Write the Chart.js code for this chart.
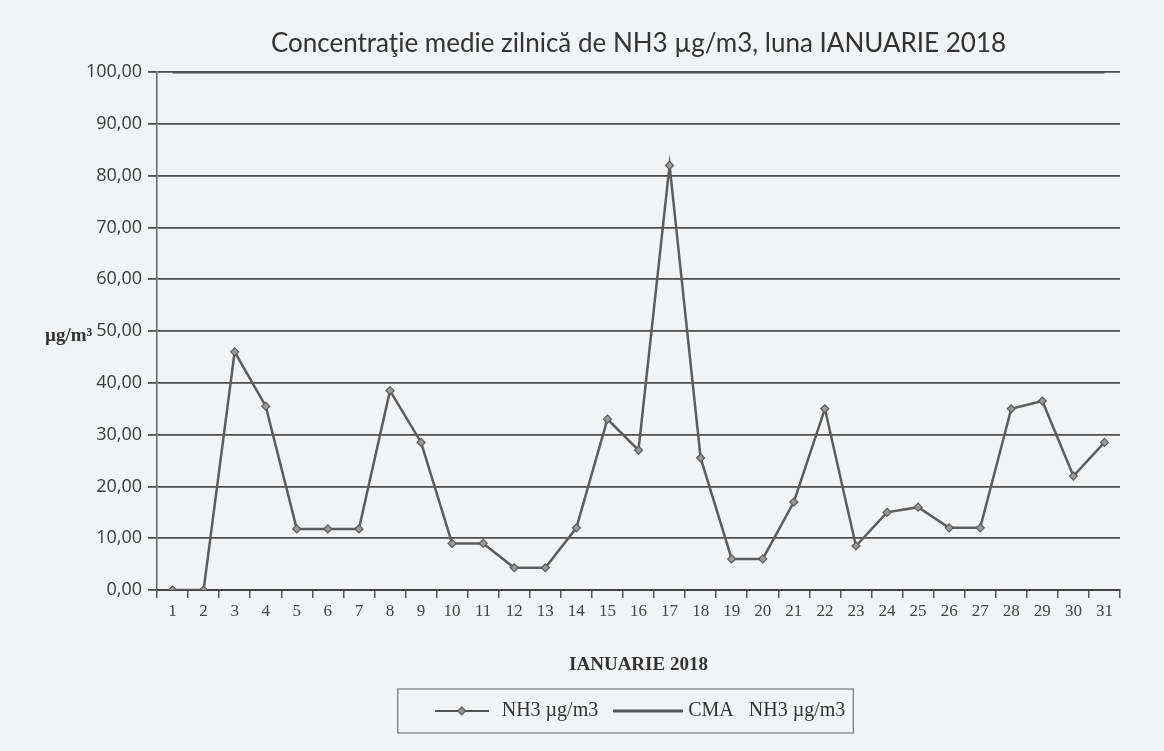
<!DOCTYPE html>
<html>
<head>
<meta charset="utf-8">
<script src="https://cdn.jsdelivr.net/npm/chart.js@4.4.1/dist/chart.umd.min.js"></script>
<style>
  html, body { margin: 0; padding: 0; background: #f1f3f4; }
  canvas { display: block; }
</style>
</head>
<body>
<canvas id="c" width="1164" height="751"></canvas>
<script>
// ---- data ----
const days = ['1','2','3','4','5','6','7','8','9','10','11','12','13','14','15','16',
              '17','18','19','20','21','22','23','24','25','26','27','28','29','30','31'];
const nh3Values = [0, 0, 46, 35.5, 11.8, 11.8, 11.8, 38.5, 28.5, 9, 9, 4.3, 4.3, 12, 33, 27,
                   82, 25.5, 6, 6, 17, 35, 8.5, 15, 16, 12, 12, 35, 36.5, 22, 28.5];
const cmaValues = [100, 100, 100, 100, 100, 100, 100, 100, 100, 100, 100, 100, 100, 100, 100, 100,
                   100, 100, 100, 100, 100, 100, 100, 100, 100, 100, 100, 100, 100, 100, 100];
const seriesNames = ['NH3 \u00b5g/m3', 'CMA   NH3 \u00b5g/m3'];
const titleText = 'Concentra\u0163ie medie zilnic\u0103 de NH3 \u00b5g/m3, luna IANUARIE 2018';
const xTitle = 'IANUARIE 2018';
const yTitle = '\u00b5g/m\u00b3';

// legend swatches (line + marker)
function swatch(w, h, lineW, marker) {
  const c = document.createElement('canvas');
  c.width = w; c.height = h;
  const g = c.getContext('2d');
  g.strokeStyle = '#555'; g.lineWidth = lineW;
  g.beginPath(); g.moveTo(0, h / 2); g.lineTo(w, h / 2); g.stroke();
  if (marker) {
    g.fillStyle = '#999'; g.strokeStyle = '#555'; g.lineWidth = 1.2;
    g.beginPath();
    g.moveTo(w / 2, h / 2 - 4); g.lineTo(w / 2 + 4, h / 2); g.lineTo(w / 2, h / 2 + 4); g.lineTo(w / 2 - 4, h / 2);
    g.closePath(); g.fill(); g.stroke();
  }
  return c;
}
const sw1 = swatch(54, 12, 1.8, true);
const sw2 = swatch(70, 12, 3, false);

const extras = {
  id: 'extras',
  afterDraw(chart) {
    const ctx = chart.ctx;
    ctx.save();
    // y axis title, horizontal like the original
    ctx.font = 'bold 19px "Liberation Serif"';
    ctx.fillStyle = '#333';
    ctx.textAlign = 'left';
    ctx.textBaseline = 'middle';
    ctx.fillText(yTitle, 45, chart.scales.y.getPixelForValue(50) + 5);
    // legend frame
    const hb = chart.legend.legendHitBoxes;
    if (hb && hb.length) {
      const first = hb[0], last = hb[hb.length - 1];
      const l = first.left - 34, r = last.left + last.width + 8;
      const t = first.top - 12, b = first.top + first.height + 12;
      ctx.strokeStyle = '#777';
      ctx.lineWidth = 1.2;
      ctx.strokeRect(l, t, r - l, b - t);
    }
    ctx.restore();
  }
};

new Chart(document.getElementById('c'), {
  type: 'line',
  data: {
    labels: days,
    datasets: [
      {
        label: seriesNames[0],
        data: nh3Values,
        borderColor: '#5c5c5c',
        borderWidth: 2.5,
        pointStyle: 'rectRot',
        pointRadius: 4,
        pointBackgroundColor: '#9a9a9a',
        pointBorderColor: '#5a5a5a',
        pointBorderWidth: 1.2,
        tension: 0,
        fill: false,
        order: 1
      },
      {
        label: seriesNames[1],
        data: cmaValues,
        borderColor: '#4a4a4a',
        borderWidth: 2.5,
        pointRadius: 0,
        tension: 0,
        fill: false,
        order: 2
      }
    ]
  },
  options: {
    responsive: false,
    animation: false,
    layout: { padding: { left: 0, right: 44, top: 0, bottom: 20 } },
    plugins: {
      title: {
        display: true,
        fullSize: false,
        text: titleText,
        color: '#333',
        font: { family: 'Lato', size: 26, weight: 'normal' },
        padding: { top: 28, bottom: 13 },
        align: 'center'
      },
      legend: {
        position: 'bottom',
        fullSize: false,
        labels: {
          usePointStyle: true,
          pointStyleWidth: 60,
          color: '#333',
          font: { family: 'Liberation Serif', size: 20 },
          padding: 20,
          generateLabels(chart) {
            return chart.data.datasets.map((ds, i) => ({
              text: ds.label,
              pointStyle: i === 0 ? sw1 : sw2,
              fontColor: '#333',
              datasetIndex: i,
              hidden: false,
              lineWidth: 0
            }));
          }
        }
      },
      tooltip: { enabled: false }
    },
    scales: {
      x: {
        offset: true,
        grid: {
          offset: true,
          drawOnChartArea: false,
          drawTicks: true,
          tickLength: 8,
          color: '#555',
          lineWidth: 1.5
        },
        border: { display: true, color: '#444', width: 2 },
        ticks: {
          color: '#444',
          font: { family: 'Liberation Serif', size: 17 },
          padding: 3,
          maxRotation: 0,
          autoSkip: false
        },
        title: {
          display: true,
          text: xTitle,
          color: '#333',
          font: { family: 'Liberation Serif', size: 19, weight: 'bold' },
          padding: { top: 0, bottom: 5 }
        },
        afterFit(scale) { scale.height = 91; }
      },
      y: {
        min: 0,
        max: 100,
        grid: {
          color: '#4e4e4e',
          lineWidth: 1.8,
          tickLength: 9,
          drawTicks: true
        },
        border: { display: true, color: '#666', width: 1.5 },
        ticks: {
          stepSize: 10,
          color: '#3a3a3a',
          font: { family: 'Open Sans', size: 18 },
          padding: 6,
          callback: (v) => Number(v).toFixed(2).replace('.', ',')
        },
        afterFit(scale) { scale.width = 157; }
      }
    }
  },
  plugins: [extras]
});
</script>
</body>
</html>
